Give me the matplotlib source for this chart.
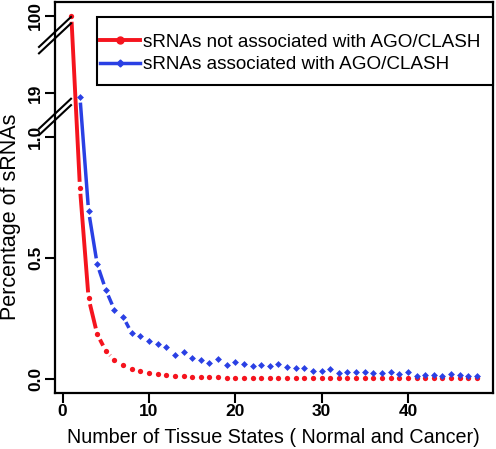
import matplotlib
matplotlib.use("Agg")
import matplotlib.pyplot as plt
import numpy as np
from matplotlib.lines import Line2D
from matplotlib.patches import Rectangle
from matplotlib.transforms import blended_transform_factory, IdentityTransform

plt.rcParams['font.family'] = ['Liberation Sans', 'DejaVu Sans']

# data
x_not = np.arange(1, 49)
y_not = [100, 0.79, 0.333, 0.185, 0.116, 0.079, 0.057, 0.043, 0.033, 0.026,
         0.021, 0.017, 0.013, 0.011, 0.009, 0.008, 0.007, 0.007, 0.006, 0.006,
         0.005, 0.005, 0.005, 0.004, 0.004, 0.004, 0.004, 0.003, 0.003, 0.003,
         0.003, 0.003, 0.003, 0.003, 0.003, 0.003, 0.002, 0.002, 0.002, 0.002,
         0.002, 0.002, 0.002, 0.002, 0.002, 0.002, 0.002, 0.002]
x_ago = np.arange(2, 49)
y_ago = [17.5, 0.694, 0.474, 0.368, 0.285, 0.257, 0.189, 0.178, 0.157, 0.145,
         0.131, 0.099, 0.113, 0.086, 0.077, 0.068, 0.081, 0.058, 0.069, 0.063,
         0.052, 0.056, 0.052, 0.062, 0.051, 0.044, 0.044, 0.033, 0.034, 0.043,
         0.026, 0.030, 0.030, 0.028, 0.026, 0.023, 0.030, 0.021, 0.029, 0.014,
         0.018, 0.017, 0.014, 0.021, 0.017, 0.014, 0.012]
labels = ['sRNAs not associated with AGO/CLASH', 'sRNAs associated with AGO/CLASH']

# gapped y axis: real value -> plotted position
gap_vals = [0, 1, 19, 100]
gap_pos = [0, 1, 1.182, 1.501]
ytick_vals = [0.0, 0.5, 1.0, 19, 100]
ytick_labels = ['0.0', '0.5', '1.0', '19', '100']
break_pos = [1.083, 1.421]


def gapy(v):
    return np.interp(v, gap_vals, gap_pos)


RED = '#f5141e'
BLUE = '#2a40e4'

W, H = 496, 449
fig = plt.figure(figsize=(W / 100, H / 100), dpi=100)
ax = fig.add_axes([55 / W, 1 - 393 / H, 438 / W, 391 / H])
ax.set_xlim(-0.89, 49.86)
ax.set_ylim(-0.058, 1.558)
for s in ax.spines.values():
    s.set_linewidth(1.6)


def gapped_line(x, y, color, lw, gap=6):
    # R type="b": line segments stop short of the points
    pts = ax.transData.transform(np.column_stack([x, gapy(y)]))
    xs, ys = [], []
    for p0, p1 in zip(pts[:-1], pts[1:]):
        d = p1 - p0
        L = np.hypot(*d)
        if L <= 2 * gap:
            continue
        u = d / L
        a, b = ax.transData.inverted().transform([p0 + u * gap, p1 - u * gap])
        xs += [a[0], b[0], np.nan]
        ys += [a[1], b[1], np.nan]
    ax.plot(xs, ys, color=color, lw=lw, solid_capstyle='butt')


gapped_line(x_not, y_not, RED, 2.8)
gapped_line(x_ago, y_ago, BLUE, 2.5)
ax.plot(x_not, gapy(y_not), 'o', color=RED, ms=3.8, mec='none')
ax.plot(x_ago, gapy(y_ago), 'D', color=BLUE, ms=3.5, mec='none')

ax.set_xticks([0, 10, 20, 30, 40])
ax.set_yticks(gapy(ytick_vals))
ax.set_yticklabels(ytick_labels)
ax.tick_params(axis='both', length=7, width=1.5, labelsize=12.5)
ax.tick_params(axis='x', pad=1)
ax.tick_params(axis='y', pad=1.5)
for t in ax.get_xticklabels() + ax.get_yticklabels():
    t.set_fontweight('bold')
for t in ax.get_yticklabels():
    t.set_rotation(90)
    t.set_va('center')

ax.set_xlabel('Number of Tissue States ( Normal and Cancer)', fontsize=14.2)
ax.set_ylabel('Percentage of sRNAs', fontsize=15.5)
ax.xaxis.set_label_coords(0.498, -0.09)
ax.yaxis.set_label_coords(-0.078, 0.45)

# axis break marks on the left spine
bt = blended_transform_factory(ax.transAxes, ax.transData)
for b in break_pos:
    cx, cy = bt.transform((0, b))
    for off in (-3.2, 3.2):
        fig.add_artist(Line2D([cx - 16, cx + 16], [cy - 15 + off, cy + 15 + off],
                              color='black', lw=1.5, transform=IdentityTransform()))

# legend: frame drawn separately so its padding can match R's box
ax.add_patch(Rectangle((0.0959, 0.7877), 0.9041, 0.1739, transform=ax.transAxes,
                       facecolor='white', edgecolor='black', lw=1.5, zorder=4,
                       clip_on=False))
handles = [Line2D([], [], color=RED, lw=2.8, marker='o', ms=5),
           Line2D([], [], color=BLUE, lw=2.5, marker='D', ms=3.5)]
leg = ax.legend(handles, labels, loc='upper left',
                bbox_to_anchor=(0.1027, 0.919), frameon=False,
                borderaxespad=0, borderpad=0, fontsize=13.6, handlelength=2.12,
                handletextpad=0.16, labelspacing=0.28, numpoints=1)
leg.set_zorder(5)

fig.savefig('out.png', dpi=100)
